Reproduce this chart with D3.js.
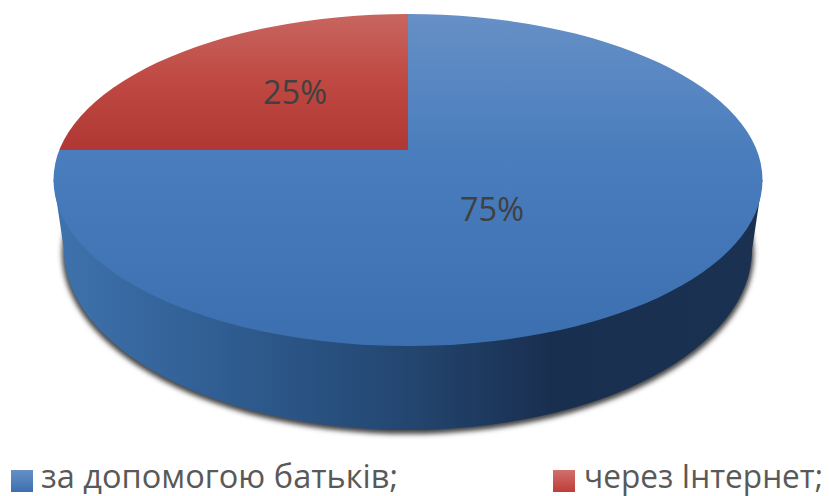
<!DOCTYPE html>
<html><head><meta charset="utf-8">
<script src="https://cdn.jsdelivr.net/npm/d3@7/dist/d3.min.js"></script>
<style>html,body{margin:0;padding:0;background:#fff;overflow:hidden}svg{display:block}</style>
</head><body><div id="chart"></div>
<script>
const categories = ["за допомогою батьків;", "через Інтернет;"];
const values = [75, 25];
const labels = ["75%", "25%"];

const W = 829, H = 496;
const svg = d3.select("#chart").append("svg").attr("width", W).attr("height", H);
const defs = svg.append("defs");
const topEl = {cx: 408, cy: 180, rx: 354.5, ry: 166};
const botEl = {cx: 408, cy: 250, rx: 344, ry: 180};
const apex = {x: 408, y: 150};

function grad(id, stops, attrs) {
  const g = defs.append("linearGradient").attr("id", id);
  Object.entries(attrs).forEach(([k, v]) => g.attr(k, v));
  stops.forEach(s => g.append("stop").attr("offset", s[0]).attr("stop-color", s[1]));
}
const vertical = {x1: 0, y1: 0, x2: 0, y2: 1};
// wedge gradients are in the wedge's own translated coordinates
grad("blueTop", [[0, "#6690c6"], [0.42, "#4a7dbd"], [1, "#3b6fb0"]],
  {gradientUnits: "userSpaceOnUse", x1: 0, x2: 0, y1: 14 - apex.y, y2: 346 - apex.y});
grad("redTop", [[0, "#c8655f"], [0.5, "#bf4842"], [1, "#b03834"]],
  {gradientUnits: "userSpaceOnUse", x1: 0, x2: 0, y1: 14 - apex.y, y2: 150 - apex.y});
grad("side", [[0, "#3f72ad"], [0.25, "#2f5c90"], [0.5, "#234670"], [0.7, "#192f50"], [1, "#1b3150"]],
  {x1: 0, y1: 0, x2: 1, y2: 0});
grad("lgBlue", [[0, "#6690c6"], [1, "#3b6fb0"]], vertical);
grad("lgRed", [[0, "#d0706c"], [1, "#bf3d38"]], vertical);
defs.append("filter").attr("id", "blur").attr("x", "-10%").attr("y", "-10%").attr("width", "120%").attr("height", "120%")
  .append("feGaussianBlur").attr("stdDeviation", 2.5);
defs.append("clipPath").attr("id", "topClip").append("ellipse")
  .attr("cx", topEl.cx).attr("cy", topEl.cy).attr("rx", topEl.rx).attr("ry", topEl.ry);

// drop shadow under the wall
svg.append("ellipse").attr("cx", botEl.cx).attr("cy", botEl.cy + 3).attr("rx", botEl.rx + 2).attr("ry", botEl.ry + 1)
  .attr("fill", "#444").attr("filter", "url(#blur)");

// side wall
const sideD = `M${topEl.cx - topEl.rx},${topEl.cy} L${botEl.cx - botEl.rx},${botEl.cy}` +
  ` A${botEl.rx},${botEl.ry} 0 0 0 ${botEl.cx + botEl.rx},${botEl.cy}` +
  ` L${topEl.cx + topEl.rx},${topEl.cy} Z`;
svg.append("path").attr("d", sideD).attr("fill", "url(#side)");

// top face: wedges radiate from the apex and are cut by the perspective ellipse
const pie = d3.pie().sort(null).startAngle(0).endAngle(2 * Math.PI)(values);
const arc = d3.arc().innerRadius(0).outerRadius(900);
svg.append("g").attr("clip-path", "url(#topClip)")
  .selectAll("path").data(pie).join("path")
  .attr("transform", `translate(${apex.x},${apex.y})`)
  .attr("d", arc)
  .attr("fill", (d, i) => i === 0 ? "url(#blueTop)" : "url(#redTop)");

// value labels
const labelX = [492, 295], labelY = [208, 91];
svg.selectAll("text.v").data(labels).join("text").attr("class", "v")
  .attr("x", (d, i) => labelX[i]).attr("y", (d, i) => labelY[i])
  .attr("text-anchor", "middle").attr("dominant-baseline", "central")
  .attr("font-family", "'Open Sans','Noto Sans',sans-serif").attr("font-size", 33).attr("fill", "#404040")
  .attr("textLength", 64).attr("lengthAdjust", "spacingAndGlyphs")
  .text(d => d);

// legend
const swatchX = [11, 553], textX = [41, 584], textW = [357, 239];
const legend = svg.append("g").selectAll("g").data(categories).join("g");
legend.append("rect").attr("x", (d, i) => swatchX[i]).attr("y", 470).attr("width", 22).attr("height", 22)
  .attr("fill", (d, i) => i === 0 ? "url(#lgBlue)" : "url(#lgRed)");
legend.append("text").attr("x", (d, i) => textX[i]).attr("y", 488)
  .attr("font-family", "'Open Sans','Noto Sans',sans-serif").attr("font-size", 32).attr("fill", "#595959")
  .attr("textLength", (d, i) => textW[i]).attr("lengthAdjust", "spacingAndGlyphs")
  .text(d => d);
</script></body></html>
